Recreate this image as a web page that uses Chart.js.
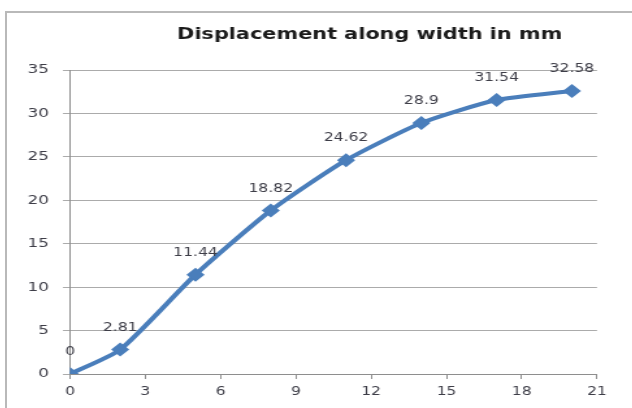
<!DOCTYPE html>
<html>
<head>
<meta charset="utf-8">
<script src="https://cdn.jsdelivr.net/npm/chart.js@4/dist/chart.umd.min.js"></script>
<style>
  html, body { margin: 0; padding: 0; background: #fff; overflow: hidden; width: 632px; height: 408px; }
  #frame {
    position: absolute; left: 5px; top: 11px;
    width: 740px; height: 420px;
    border-left: 2px solid #b9b9b9; border-top: 2px solid #b9b9b9;
  }
  #chart {
    position: absolute; left: 0; top: 0;
    transform: scaleX(1.3); transform-origin: 0 0;
  }
</style>
</head>
<body>
<div id="frame"><canvas id="chart" width="558" height="395"></canvas></div>
<script>
// Displacement along the width (mm) at each measuring position
const positions = [0, 2, 5, 8, 11, 14, 17, 20];
const displacement = [0, 2.81, 11.44, 18.82, 24.62, 28.9, 31.54, 32.58];
const xTicks = [0, 3, 6, 9, 12, 15, 18, 21];
const yTicks = [0, 5, 10, 15, 20, 25, 30, 35];
const titleText = 'Displacement along width in mm';

const lineColor = '#4a7ebb';
const textColor = '#3e3e48';
const gridColor = '#ababab';

// Writes each point's value just above its marker
const valueLabels = {
  id: 'valueLabels',
  afterDatasetsDraw(chart) {
    const ctx = chart.ctx;
    const ds = chart.data.datasets[0];
    const meta = chart.getDatasetMeta(0);
    ctx.save();
    ctx.font = '12px "DejaVu Sans"';
    ctx.fillStyle = textColor;
    ctx.textAlign = 'center';
    ctx.textBaseline = 'middle';
    meta.data.forEach((pt, i) => {
      ctx.fillText(String(ds.data[i].y), pt.x, pt.y - 22);
    });
    ctx.restore();
  }
};

const points = positions.map((x, i) => ({ x: x, y: displacement[i] }));

new Chart(document.getElementById('chart'), {
  type: 'line',
  data: {
    datasets: [{
      data: points,
      borderColor: lineColor,
      backgroundColor: lineColor,
      borderWidth: 4,
      tension: 0.2,
      pointStyle: 'rectRot',
      pointRadius: 7,
      pointBorderWidth: 0,
      fill: false
    }]
  },
  options: {
    responsive: false,
    animation: false,
    devicePixelRatio: 1,
    layout: { padding: 0 },
    plugins: {
      legend: { display: false },
      tooltip: { enabled: false },
      title: {
        display: true,
        text: titleText,
        color: '#1b1b1b',
        font: { family: '"DejaVu Sans"', size: 16, weight: 'bold', lineHeight: 1.2 },
        padding: { top: 12, bottom: 25.8 }
      }
    },
    scales: {
      x: {
        type: 'linear',
        min: 0, max: 21,
        afterBuildTicks: s => { s.ticks = xTicks.map(v => ({ value: v })); },
        afterFit: s => { s.height = 34; },
        grid: { drawOnChartArea: false, drawTicks: true, tickLength: 5, color: '#8e8e8e' },
        border: { color: '#8e8e8e', width: 1 },
        ticks: { color: textColor, padding: 6, font: { family: '"DejaVu Sans"', size: 12 } }
      },
      y: {
        type: 'linear',
        min: 0, max: 35,
        afterBuildTicks: s => { s.ticks = yTicks.map(v => ({ value: v })); },
        afterFit: s => { s.width = 48.46; },
        grid: { color: gridColor, tickLength: 5.4, lineWidth: 1 },
        border: { color: '#8e8e8e', width: 1 },
        ticks: { color: textColor, padding: 10.8, font: { family: '"DejaVu Sans"', size: 13 } }
      },
      side: {
        type: 'linear',
        position: 'right',
        display: true,
        afterFit: s => { s.width = 104.15; },
        grid: { display: false, drawTicks: false },
        border: { display: false },
        ticks: { display: false }
      }
    }
  },
  plugins: [valueLabels]
});
</script>
</body>
</html>
